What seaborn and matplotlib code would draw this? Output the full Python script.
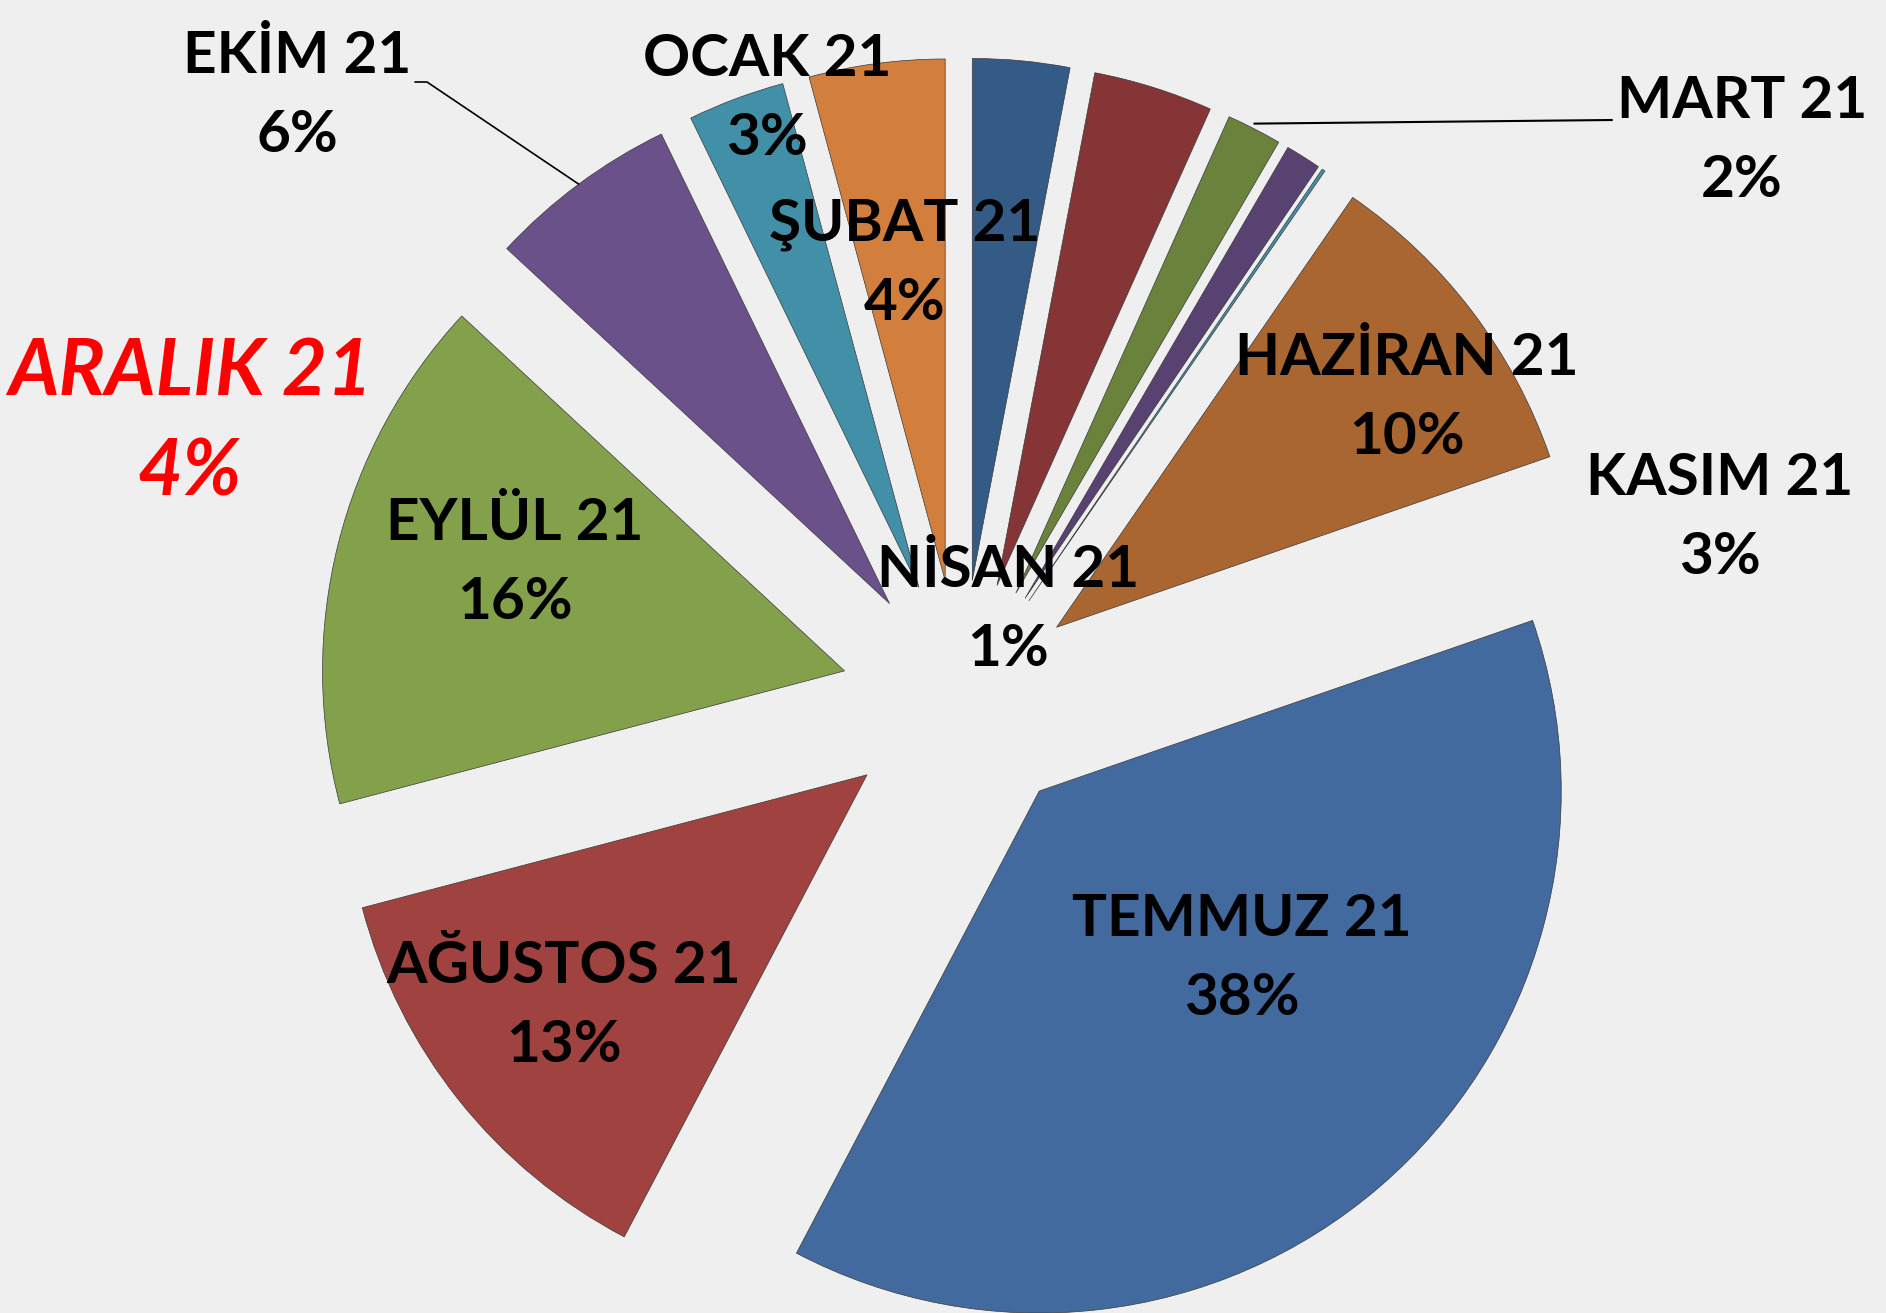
import matplotlib
matplotlib.use("Agg")
import matplotlib.pyplot as plt
import numpy as np
import seaborn as sns

# monthly shares (%), pie starts at 12 o'clock and runs clockwise
months = ["OCAK 21", "ŞUBAT 21", "MART 21", "NİSAN 21", "MAYIS 21", "HAZİRAN 21",
          "TEMMUZ 21", "AĞUSTOS 21", "EYLÜL 21", "EKİM 21", "KASIM 21", "ARALIK 21"]
shares = [3.0, 3.7, 1.7, 1.1, 0.1, 10.1, 38.0, 13.2, 16.0, 5.9, 3.0, 4.2]
colors = ["#345a86", "#853535", "#6b823c", "#574272", "#4290a8", "#aa6630",
          "#426a9e", "#a04240", "#83a04a", "#6b5189", "#4290a8", "#d27e3c"]

# label block centres in pixels of the 1886x1313 canvas (MAYIS has no label)
label_pos = {
    "OCAK 21": (767, 99), "ŞUBAT 21": (905, 264), "MART 21": (1742, 141),
    "NİSAN 21": (1008, 610), "HAZİRAN 21": (1407, 398), "TEMMUZ 21": (1242, 959),
    "AĞUSTOS 21": (564, 1006), "EYLÜL 21": (515, 563), "EKİM 21": (297, 96),
    "KASIM 21": (1720, 518), "ARALIK 21": (190, 423),
}
W, H = 1886, 1313
CX, CY, R = 961, 700, 522  # pie centre / radius in pixels


def px(x, y):
    return x / W, 1 - y / H


def arc_mid(w):
    mid = np.deg2rad((w.theta1 + w.theta2) / 2)
    return w.center[0] + w.r * np.cos(mid), w.center[1] + w.r * np.sin(mid)


def main():
    sns.set_theme(style="white")
    plt.rcParams["font.family"] = ["Lato", "DejaVu Sans"]

    fig = plt.figure(figsize=(W / 100, H / 100), dpi=100)
    fig.patch.set_facecolor("#efefef")
    ax = fig.add_axes([0, 0, 1, 1])
    ax.set_facecolor("#efefef")

    wedges, _ = ax.pie(
        shares,
        colors=colors,
        explode=[0.23] * len(shares),
        startangle=90,
        counterclock=False,
        wedgeprops=dict(edgecolor="#3a3a3a", linewidth=0.5),
    )
    ax.set_xlim(-CX / R, (W - CX) / R)
    ax.set_ylim(-(H - CY) / R, CY / R)
    ax.set_aspect("equal")
    ax.axis("off")

    total = sum(shares)
    for name, val in zip(months, shares):
        if name not in label_pos:
            continue
        x, y = px(*label_pos[name])
        txt = f"{name}\n{round(val / total * 100)}%"
        if name == "ARALIK 21":
            fig.text(x, y, txt, ha="center", va="center", fontsize=56,
                     fontweight="bold", style="italic", color="#ff0000",
                     linespacing=1.5)
        else:
            fig.text(x, y, txt, ha="center", va="center", fontsize=42,
                     fontweight="bold", color="black", linespacing=1.62)

    # leader lines for EKİM and MART, ending on the middle of the wedge arc
    ex, ey = arc_mid(wedges[months.index("EKİM 21")])
    y0 = (CY - 82) / R
    ax.plot([(415 - CX) / R, (427 - CX) / R, ex], [y0, y0, ey], color="black", lw=1.2)

    mx, my = arc_mid(wedges[months.index("MART 21")])
    ax.plot([(1612 - CX) / R, mx], [(CY - 120) / R, my + 0.01], color="black", lw=1.5)

    plt.savefig("out.png", dpi=100, facecolor=fig.get_facecolor())


if __name__ == "__main__":
    main()
